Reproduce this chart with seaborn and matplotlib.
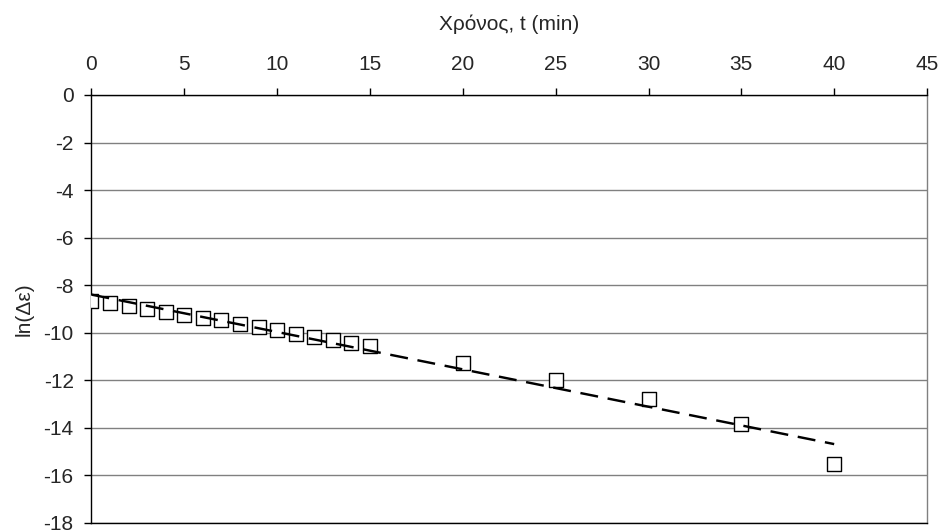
import numpy as np
import pandas as pd
import matplotlib
matplotlib.use("Agg")
import matplotlib.pyplot as plt
import seaborn as sns

time_min = [0, 1, 2, 3, 4, 5, 6, 7, 8, 9, 10, 11, 12, 13, 14, 15, 20, 25, 30, 35, 40]
ln_de = [-8.65, -8.73, -8.87, -9.00, -9.13, -9.24, -9.39, -9.48, -9.65, -9.77,
         -9.90, -10.04, -10.18, -10.31, -10.42, -10.57, -11.27, -11.98, -12.80,
         -13.83, -15.53]
x_ticks = [0, 5, 10, 15, 20, 25, 30, 35, 40, 45]
y_ticks = [0, -2, -4, -6, -8, -10, -12, -14, -16, -18]

sns.set_style("white")
plt.rcParams['font.family'] = ['Liberation Sans', 'DejaVu Sans']

df = pd.DataFrame({"t": time_min, "y": ln_de})
slope, intercept = np.polyfit(df["t"], df["y"], 1)
trend = pd.DataFrame({"t": [min(time_min), max(time_min)]})
trend["y"] = intercept + slope * trend["t"]

fig = plt.figure(figsize=(9.42, 5.31), dpi=100)
ax = fig.add_axes([0.0971, 0.0151, 0.8870, 0.8060])

for yv in y_ticks:
    ax.axhline(yv, color="#808080", lw=1.0, zorder=0)

sns.scatterplot(data=df, x="t", y="y", ax=ax, marker="s", s=95,
                facecolor="white", edgecolor="black", linewidth=1.0, zorder=3)
sns.lineplot(data=trend, x="t", y="y", ax=ax, color="black", lw=1.75,
             linestyle=(0, (7.4, 4.0)), zorder=4)

ax.set_xlim(0, 45)
ax.set_ylim(-18, 0)
ax.set_xticks(x_ticks)
ax.set_yticks(y_ticks)
ax.set_yticklabels([str(v) for v in y_ticks])
ax.xaxis.tick_top()
ax.xaxis.set_label_position("top")
ax.set_xlabel("Χρόνος, t (min)", fontsize=15, labelpad=18.5)
ax.set_ylabel("ln(Δε)", fontsize=15, labelpad=7)
ax.tick_params(axis="both", which="major", labelsize=15, length=4.8,
               width=1.0, color="black", direction="out")
ax.tick_params(axis="x", top=True, bottom=False, pad=10)
ax.tick_params(axis="y", left=True, pad=8)

for side in ["left", "top", "bottom"]:
    ax.spines[side].set_color("black")
    ax.spines[side].set_linewidth(1.0)
ax.spines["right"].set_color("#808080")
ax.spines["right"].set_linewidth(1.0)

fig.savefig("out.png", dpi=100)
